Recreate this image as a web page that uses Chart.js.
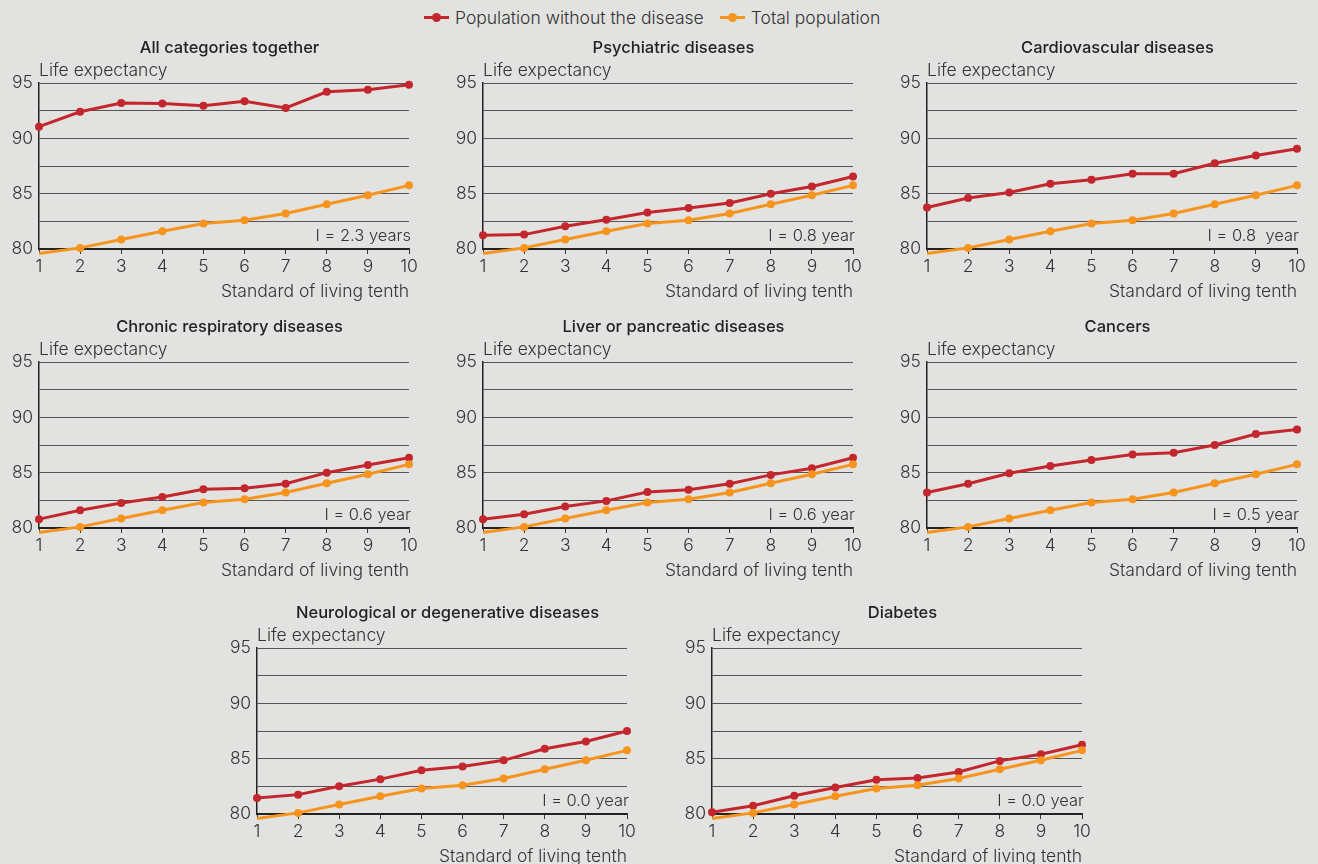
<!DOCTYPE html>
<html>
<head>
<meta charset="utf-8">
<script src="https://cdn.jsdelivr.net/npm/chart.js@4.4.1/dist/chart.umd.min.js"></script>
<style>
  html, body { margin: 0; padding: 0; }
  body {
    width: 1318px; height: 864px; overflow: hidden; position: relative;
    background: #e2e2e0; font-family: Inter, sans-serif; color: #333;
  }
  .panel { position: absolute; }
  .legend {
    position: absolute; top: 7px; left: 424px;
    display: flex; align-items: center; font-size: 17.5px; font-weight: 300; color: #333;
  }
  .legend .item { display: flex; align-items: center; margin-right: 16px; }
  .legend .mark { position: relative; width: 25px; height: 3px; margin-right: 6px; }
  .legend .mark::after {
    content: ''; position: absolute; left: 8px; top: -3px; width: 9px; height: 9px;
    border-radius: 50%; background: inherit;
  }
</style>
</head>
<body>
<div class="legend">
  <div class="item"><span class="mark" style="background:#c4262e"></span>Population without the disease</div>
  <div class="item"><span class="mark" style="background:#f7941d"></span>Total population</div>
</div>

<script>
// Data
const deciles = ['1', '2', '3', '4', '5', '6', '7', '8', '9', '10'];
const totalPopulation = [79.6, 80.1, 80.85, 81.6, 82.3, 82.6, 83.2, 84.05, 84.85, 85.75];

const allCategories   = [91.05, 92.4, 93.2, 93.15, 92.95, 93.35, 92.75, 94.2, 94.4, 94.85];
const psychiatric     = [81.25, 81.3, 82.05, 82.65, 83.3, 83.7, 84.15, 85.0, 85.65, 86.55];
const cardiovascular  = [83.75, 84.6, 85.1, 85.9, 86.25, 86.8, 86.8, 87.75, 88.45, 89.05];
const respiratory     = [80.8, 81.6, 82.25, 82.8, 83.5, 83.6, 84.0, 85.0, 85.7, 86.35];
const liverPancreas   = [80.8, 81.25, 81.95, 82.45, 83.25, 83.45, 84.0, 84.8, 85.4, 86.35];
const cancers         = [83.2, 84.0, 84.95, 85.6, 86.15, 86.65, 86.8, 87.5, 88.5, 88.9];
const neurological    = [81.45, 81.75, 82.5, 83.15, 83.95, 84.3, 84.85, 85.9, 86.55, 87.5];
const diabetes        = [80.15, 80.75, 81.65, 82.4, 83.1, 83.25, 83.8, 84.8, 85.4, 86.25];

const panelTitles = [
  'All categories together', 'Psychiatric diseases', 'Cardiovascular diseases',
  'Chronic respiratory diseases', 'Liver or pancreatic diseases', 'Cancers',
  'Neurological or degenerative diseases', 'Diabetes'
];
const panelSeries = [allCategories, psychiatric, cardiovascular, respiratory,
  liverPancreas, cancers, neurological, diabetes];
const gapLabels = ['I = 2.3 years', 'I = 0.8 year', 'I = 0.8  year', 'I = 0.6 year',
  'I = 0.6 year', 'I = 0.5 year', 'I = 0.0 year', 'I = 0.0 year'];

const yMin = 80;
const yMax = 95;
const yStep = 2.5;
const yAxisTitle = 'Life expectancy';
const xAxisTitle = 'Standard of living tenth';
const seriesNames = ['Population without the disease', 'Total population'];

// plot area top-left corner of each panel on the page
const plotPos = [[39, 83], [483, 83], [927, 83], [39, 362], [483, 362], [927, 362], [257, 648], [712, 648]];

const RED = '#c4262e';
const ORANGE = '#f7941d';
const FONT = 'Inter, sans-serif';
const TXT = 17.5;
const PLOT_W = 370, PLOT_H = 166;
const PAD_TOP = 56, PAD_RIGHT = 24, Y_W = 38, X_H = 53;

// titles, "Life expectancy" and the gap label, drawn relative to the chart area
const panelText = {
  id: 'panelText',
  afterDraw(chart, args, opts) {
    const { ctx, chartArea: a } = chart;
    ctx.save();
    ctx.fillStyle = '#222';
    ctx.font = '500 16.5px ' + FONT;
    ctx.textAlign = 'center';
    ctx.textBaseline = 'alphabetic';
    ctx.fillText(opts.title, (a.left + a.right) / 2 + 5.5, a.top - 30);

    ctx.fillStyle = '#333';
    ctx.font = '300 ' + TXT + 'px ' + FONT;
    ctx.textAlign = 'left';
    ctx.fillText(yAxisTitle, a.left, a.top - 7);

    ctx.font = '300 16.5px ' + FONT;
    ctx.textAlign = 'right';
    ctx.fillText(opts.gap, a.right + 2, a.bottom - 8);
    ctx.restore();
  }
};

function makeDataset(label, data, color) {
  return {
    label: label,
    data: data,
    borderColor: color,
    backgroundColor: color,
    borderWidth: 3,
    pointRadius: 4,
    pointHoverRadius: 4,
    pointBorderWidth: 0,
    tension: 0,
    clip: false
  };
}

panelTitles.forEach((title, i) => {
  const [px, py] = plotPos[i];
  const box = document.createElement('div');
  box.className = 'panel';
  const w = PLOT_W + Y_W + PAD_RIGHT;
  const h = PAD_TOP + PLOT_H + X_H;
  box.style.left = (px - Y_W) + 'px';
  box.style.top = (py - PAD_TOP) + 'px';
  box.style.width = w + 'px';
  box.style.height = h + 'px';
  const canvas = document.createElement('canvas');
  box.appendChild(canvas);
  document.body.appendChild(box);

  new Chart(canvas.getContext('2d'), {
    type: 'line',
    data: {
      labels: deciles,
      datasets: [
        makeDataset(seriesNames[1], totalPopulation, ORANGE),
        makeDataset(seriesNames[0], panelSeries[i], RED)
      ]
    },
    options: {
      responsive: true,
      maintainAspectRatio: false,
      animation: false,
      layout: { padding: { top: PAD_TOP, right: PAD_RIGHT, left: 0, bottom: 0 } },
      plugins: {
        legend: { display: false },
        tooltip: { enabled: false },
        panelText: { title: title, gap: gapLabels[i] }
      },
      scales: {
        x: {
          offset: false,
          grid: { drawOnChartArea: false, drawTicks: true, tickLength: 5, color: '#333' },
          border: { display: true, color: '#222', width: 1.5 },
          ticks: { color: '#333', font: { family: FONT, size: TXT, weight: 300 }, padding: 2, maxRotation: 0 },
          title: {
            display: true, text: xAxisTitle, align: 'end', color: '#333',
            font: { family: FONT, size: TXT, weight: 300 }, padding: { top: 0, bottom: 0 }
          },
          afterFit(scale) { scale.height = X_H; }
        },
        y: {
          min: yMin,
          max: yMax,
          grid: {
            drawTicks: false,
            color: (c) => c.tick && c.tick.value === yMin ? '#222' : '#555',
            lineWidth: 1
          },
          border: { display: true, color: '#222', width: 1.5 },
          ticks: {
            stepSize: yStep,
            padding: 6,
            color: '#333',
            font: { family: FONT, size: TXT, weight: 300 },
            callback: (v) => (v % 5 === 0 ? v : '')
          },
          afterFit(scale) { scale.width = Y_W; }
        }
      }
    },
    plugins: [panelText]
  });
});
</script>
</body>
</html>
